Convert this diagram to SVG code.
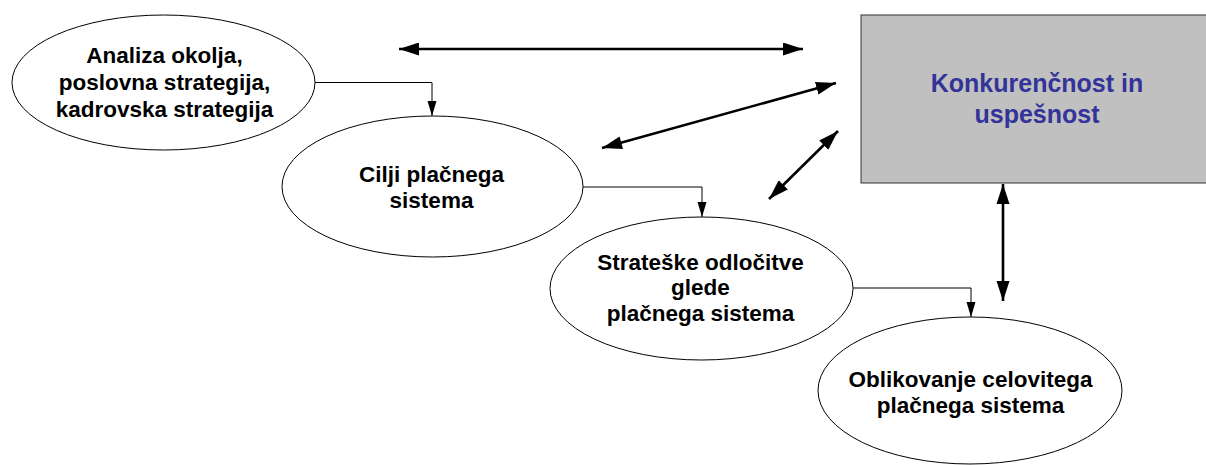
<svg xmlns="http://www.w3.org/2000/svg" width="1206" height="465" viewBox="0 0 1206 465">
  <style>
    .node ellipse { fill: #ffffff; stroke: #000000; stroke-width: 1; }
    .label { font-family: "Liberation Sans", Arial, sans-serif; font-weight: bold; font-size: 22.5px; fill: #000000; text-anchor: middle; }
    .boxlabel { font-family: "Liberation Sans", Arial, sans-serif; font-weight: bold; font-size: 25px; fill: #333399; text-anchor: middle; }
    .flow { fill: none; stroke: #000000; stroke-width: 1; marker-end: url(#thin); }
    .link { fill: none; stroke: #000000; stroke-width: 2.6; marker-start: url(#thickStart); marker-end: url(#thick); }
  </style>
  <defs>
    <marker id="thin" markerUnits="userSpaceOnUse" markerWidth="16" markerHeight="10" refX="15" refY="4.5" orient="auto">
      <path d="M0,0 L15,4.5 L0,9 Z" fill="#000000"/>
    </marker>
    <marker id="thick" markerUnits="userSpaceOnUse" markerWidth="21" markerHeight="14" refX="20" refY="6.5" orient="auto">
      <path d="M0,0 L20,6.5 L0,13 Z" fill="#000000"/>
    </marker>
    <marker id="thickStart" markerUnits="userSpaceOnUse" markerWidth="21" markerHeight="14" refX="0" refY="6.5" orient="auto">
      <path d="M20,0 L0,6.5 L20,13 Z" fill="#000000"/>
    </marker>
  </defs>

  <rect width="1206" height="465" fill="#ffffff"/>

  <!-- outcome box, running off the right edge -->
  <g id="konkurencnost">
    <rect x="861" y="15" width="360" height="168" fill="#c0c0c0" stroke="#333333" stroke-width="1"/>
    <text class="boxlabel" x="1037" y="92">Konkurenčnost in</text>
    <text class="boxlabel" x="1037" y="123">uspešnost</text>
  </g>

  <g id="analiza" class="node">
    <ellipse cx="163.5" cy="82.5" rx="151.5" ry="67.5"/>
    <text class="label" x="164.5" y="63">Analiza okolja,</text>
    <text class="label" x="164.5" y="90">poslovna strategija,</text>
    <text class="label" x="164.5" y="117">kadrovska strategija</text>
  </g>

  <g id="cilji" class="node">
    <ellipse cx="432.5" cy="186.5" rx="150.5" ry="70.5"/>
    <text class="label" x="431.5" y="182">Cilji plačnega</text>
    <text class="label" x="431.5" y="208">sistema</text>
  </g>

  <g id="odlocitve" class="node">
    <ellipse cx="701.5" cy="288.5" rx="151.5" ry="71.5"/>
    <text class="label" x="700.5" y="270">Strateške odločitve</text>
    <text class="label" x="700.5" y="295">glede</text>
    <text class="label" x="700.5" y="320.5">plačnega sistema</text>
  </g>

  <g id="oblikovanje" class="node">
    <ellipse cx="970" cy="390.5" rx="152" ry="73.5"/>
    <text class="label" x="970.5" y="387">Oblikovanje celovitega</text>
    <text class="label" x="970.5" y="413">plačnega sistema</text>
  </g>

  <g id="connectors">
    <!-- sequence of steps -->
    <path class="flow" d="M315,82.5 H432 V116"/>
    <path class="flow" d="M583,187 H702 V217"/>
    <path class="flow" d="M853,288 H971 V317"/>
    <!-- two-way links with the outcome -->
    <path class="link" d="M399,49 H803"/>
    <path class="link" d="M602,148 L836,83"/>
    <path class="link" d="M769,199 L838,131"/>
    <path class="link" d="M1003,184 V301"/>
  </g>
</svg>
